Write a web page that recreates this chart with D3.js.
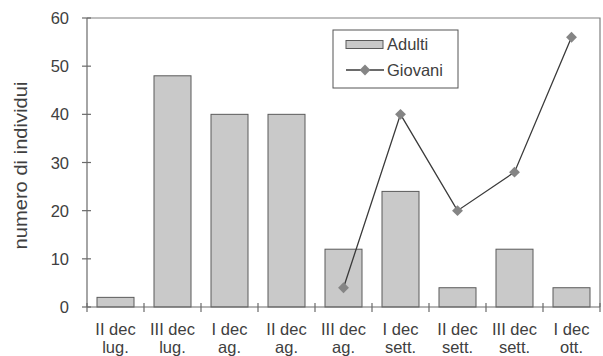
<!DOCTYPE html>
<html>
<head>
<meta charset="utf-8">
<script src="https://cdn.jsdelivr.net/npm/d3@7"></script>
<style>
  html, body { margin: 0; padding: 0; background: #fff; }
  svg { display: block; font-family: "Liberation Sans", Arial, sans-serif; }
</style>
</head>
<body>
<svg id="chart" width="603" height="356"></svg>
<script>
// Decades (first line / second line of each label)
const categories = ["II dec lug.", "III dec lug.", "I dec ag.", "II dec ag.", "III dec ag.",
                    "I dec sett.", "II dec sett.", "III dec sett.", "I dec ott."];
const labelTop = ["II dec", "III dec", "I dec", "II dec", "III dec", "I dec", "II dec", "III dec", "I dec"];
const labelBottom = ["lug.", "lug.", "ag.", "ag.", "ag.", "sett.", "sett.", "sett.", "ott."];
// Counts per decade
const adulti = [2, 48, 40, 40, 12, 24, 4, 12, 4];
const giovani = [null, null, null, null, 4, 40, 20, 28, 56];
const yTicks = [0, 10, 20, 30, 40, 50, 60];

const svg = d3.select("#chart");
const margin = { left: 87, right: 3, top: 18, bottom: 49 };
const W = 603, H = 356;
const x0 = margin.left, x1 = W - margin.right;
const y0 = H - margin.bottom, y1 = margin.top;

const xb = d3.scaleBand().domain(categories).range([x0, x1]);
const y = d3.scaleLinear().domain([0, 60]).range([y0, y1]);
const barW = 37;

const axisCol = "#6a6a6a";
const textCol = "#404040";
const fs = 16.5;

// plot frame (top and right)
svg.append("path")
  .attr("d", `M${x0},${y1}H${x1}V${y0}`)
  .attr("fill", "none").attr("stroke", "#808080").attr("stroke-width", 1.2);

// bars
svg.append("g").selectAll("rect").data(adulti).join("rect")
  .attr("x", (d, i) => xb(categories[i]) + xb.bandwidth() / 2 - barW / 2)
  .attr("width", barW)
  .attr("y", d => y(d))
  .attr("height", d => y(0) - y(d))
  .attr("fill", "#c9c9c9")
  .attr("stroke", "#5a5a5a")
  .attr("stroke-width", 1);

// y axis
svg.append("line").attr("x1", x0).attr("x2", x0).attr("y1", y1).attr("y2", y0)
  .attr("stroke", axisCol).attr("stroke-width", 1.2);
const yg = svg.append("g");
yg.selectAll("line").data(yTicks).join("line")
  .attr("x1", x0 - 5).attr("x2", x0 + 4)
  .attr("y1", d => y(d)).attr("y2", d => y(d))
  .attr("stroke", axisCol).attr("stroke-width", 1.2);
yg.selectAll("text").data(yTicks).join("text")
  .attr("x", x0 - 18).attr("y", d => y(d) + 6)
  .attr("text-anchor", "end")
  .attr("font-size", fs).attr("fill", textCol)
  .text(d => d);

// x axis
svg.append("line").attr("x1", x0).attr("x2", x1).attr("y1", y0).attr("y2", y0)
  .attr("stroke", axisCol).attr("stroke-width", 1.2);
const xTickPos = categories.map(c => xb(c)).concat([x1]);
svg.append("g").selectAll("line").data(xTickPos).join("line")
  .attr("x1", d => d).attr("x2", d => d)
  .attr("y1", y0 - 4).attr("y2", y0 + 5)
  .attr("stroke", axisCol).attr("stroke-width", 1.2);
const xl = svg.append("g");
xl.selectAll("text.t").data(categories).join("text").attr("class", "t")
  .attr("x", c => xb(c) + xb.bandwidth() / 2).attr("y", y0 + 28)
  .attr("text-anchor", "middle").attr("font-size", fs).attr("fill", textCol)
  .text((c, i) => labelTop[i]);
xl.selectAll("text.b").data(categories).join("text").attr("class", "b")
  .attr("x", c => xb(c) + xb.bandwidth() / 2).attr("y", y0 + 46)
  .attr("text-anchor", "middle").attr("font-size", fs).attr("fill", textCol)
  .text((c, i) => labelBottom[i]);

// y axis title
svg.append("text")
  .attr("transform", `translate(27,${(y0 + y1) / 2 + 3}) rotate(-90)`)
  .attr("text-anchor", "middle").attr("font-size", 17.5).attr("fill", textCol)
  .attr("textLength", 168).attr("lengthAdjust", "spacingAndGlyphs")
  .text("numero di individui");

// line series
const pts = giovani.map((v, i) => ({ c: categories[i], v })).filter(d => d.v !== null);
const cx = d => xb(d.c) + xb.bandwidth() / 2;
svg.append("path")
  .datum(pts)
  .attr("d", d3.line().x(cx).y(d => y(d.v)))
  .attr("fill", "none").attr("stroke", "#3a3a3a").attr("stroke-width", 1.3);
const diamond = d3.symbol().type(d3.symbolDiamond2).size(75);
svg.append("g").selectAll("path").data(pts).join("path")
  .attr("transform", d => `translate(${cx(d)},${y(d.v)})`)
  .attr("d", diamond).attr("fill", "#858585");

// legend
const lg = svg.append("g");
lg.append("rect").attr("x", 333).attr("y", 30).attr("width", 125).attr("height", 58)
  .attr("fill", "#fff").attr("stroke", "#555").attr("stroke-width", 1);
lg.append("rect").attr("x", 346).attr("y", 40.5).attr("width", 37).attr("height", 8)
  .attr("fill", "#c9c9c9").attr("stroke", "#5a5a5a").attr("stroke-width", 1);
lg.append("text").attr("x", 387).attr("y", 50).attr("font-size", fs).attr("fill", textCol).text("Adulti");
lg.append("line").attr("x1", 346).attr("x2", 384).attr("y1", 70).attr("y2", 70)
  .attr("stroke", "#3a3a3a").attr("stroke-width", 1.3);
lg.append("path").attr("transform", "translate(365,70)").attr("d", diamond).attr("fill", "#858585");
lg.append("text").attr("x", 387).attr("y", 76).attr("font-size", fs).attr("fill", textCol).text("Giovani");
</script>
</body>
</html>
